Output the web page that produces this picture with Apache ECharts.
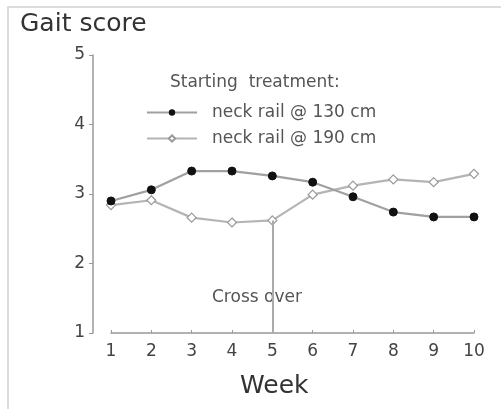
<!DOCTYPE html>
<html>
<head>
<meta charset="utf-8">
<script src="https://cdn.jsdelivr.net/npm/echarts@6/dist/echarts.min.js"></script>
<style>
  html, body { margin: 0; padding: 0; background: #fff; }
  #chart { width: 501px; height: 409px; }
</style>
</head>
<body>
<div id="chart"></div>
<script>
// Weekly mean gait scores for the two starting treatments (cross-over after week 5)
const weeks = [1, 2, 3, 4, 5, 6, 7, 8, 9, 10];
const rail130 = [2.90, 3.06, 3.33, 3.33, 3.26, 3.17, 2.96, 2.74, 2.67, 2.67];
const rail190 = [2.84, 2.91, 2.66, 2.59, 2.62, 2.99, 3.12, 3.21, 3.17, 3.29];
const seriesNames = ['neck rail @ 130 cm', 'neck rail @ 190 cm'];
const crossOverWeek = 5;
const yTicks = [1, 2, 3, 4, 5];

const font = 'DejaVu Sans';
const pairs = vals => weeks.map((w, i) => [w, vals[i]]);
const crossIdx = weeks.indexOf(crossOverWeek);

const chart = echarts.init(document.getElementById('chart'), null, { renderer: 'canvas' });
chart.setOption({
  backgroundColor: '#fff',
  animation: false,
  grid: { left: 111, right: 27, top: 55, bottom: 76 },
  graphic: [
    { type: 'rect', left: 7, top: 6, z: -10,
      shape: { width: 520, height: 420 },
      style: { fill: '#fff', stroke: '#dcdcdc', lineWidth: 2 } },
    { type: 'text', left: 20, top: 12,
      style: { text: 'Gait score', font: '25px "' + font + '"', fill: '#333' } },
    { type: 'text', left: 170, top: 74,
      style: { text: 'Starting  treatment:', font: '17px "' + font + '"', fill: '#555' } },
    { type: 'text', left: 240, top: 374,
      style: { text: 'Week', font: '25px "' + font + '"', fill: '#333' } },
    // annotation beside the cross-over line
    { type: 'text', left: 212, top: 289,
      style: { text: 'Cross over', font: '17px "' + font + '"', fill: '#555' } }
  ],
  legend: {
    orient: 'vertical',
    left: 141, top: 99,
    itemWidth: 50, itemHeight: 8, itemGap: 9,
    data: seriesNames,
    textStyle: { fontFamily: font, fontSize: 17, color: '#555', padding: [0, 0, 0, 10] }
  },
  xAxis: {
    type: 'value', min: 1, max: 10, interval: 1,
    axisLine: { lineStyle: { color: '#999', width: 1.5 } },
    axisTick: { inside: true, length: 3, lineStyle: { color: '#999' } },
    axisLabel: { fontFamily: font, fontSize: 17, color: '#444', margin: 10,
      formatter: v => String(v) },
    splitLine: { show: false }
  },
  yAxis: {
    type: 'value', min: yTicks[0], max: yTicks[yTicks.length - 1], interval: 1,
    offset: 18,
    axisLine: { show: true, lineStyle: { color: '#999', width: 1.5 } },
    axisTick: { show: true, length: 4, lineStyle: { color: '#999' } },
    axisLabel: { fontFamily: font, fontSize: 17, color: '#444', margin: 8 },
    splitLine: { show: false }
  },
  series: [
    {
      name: seriesNames[1], type: 'line', data: pairs(rail190),
      symbol: 'diamond', symbolSize: 9, showAllSymbol: true,
      lineStyle: { color: '#b4b4b4', width: 2.2 },
      itemStyle: { color: '#fff', borderColor: '#999', borderWidth: 1.2 },
      markLine: {
        silent: true, symbol: 'none',
        lineStyle: { color: '#aaa', width: 2, type: 'solid' },
        label: { show: false },
        data: [[{ coord: [crossOverWeek, rail190[crossIdx]] }, { coord: [crossOverWeek, yTicks[0]] }]]
      },
      z: 2
    },
    {
      name: seriesNames[0], type: 'line', data: pairs(rail130),
      symbol: 'circle', symbolSize: 8, showAllSymbol: true,
      lineStyle: { color: '#a0a0a0', width: 2.2 },
      itemStyle: { color: '#111', borderColor: '#111' },
      z: 3
    }
  ]
});
</script>
</body>
</html>
